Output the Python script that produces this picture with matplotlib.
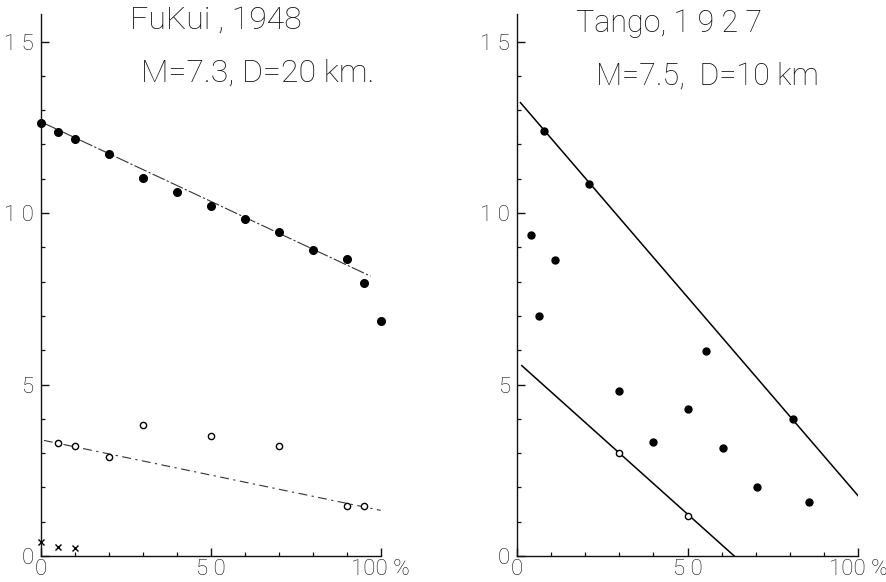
import numpy as np
import matplotlib
matplotlib.use('Agg')
import matplotlib.pyplot as plt
from matplotlib.ticker import MultipleLocator, FixedLocator, FixedFormatter

plt.rcParams['font.family'] = ['Roboto', 'DejaVu Sans']
plt.rcParams['font.weight'] = 'light'

# Fukui, 1948
fukui_x = [0, 5, 10, 20, 30, 40, 50, 60, 70, 80, 90, 95, 100]
fukui_full = [12.63, 12.35, 12.16, 11.73, 11.02, 10.61, 10.2, 9.83, 9.44, 8.92, 8.67, 7.95, 6.86]
fukui_open_x = [5, 10, 20, 30, 50, 70, 90, 95]
fukui_open = [3.29, 3.2, 2.89, 3.82, 3.5, 3.2, 1.47, 1.47]
fukui_cross_x = [0, 5, 10]
fukui_cross = [0.42, 0.26, 0.24]
fukui_fit_x = [1, 97]
fukui_fit = [12.62, 8.16]
fukui_fit2_x = [1, 100]
fukui_fit2 = [3.37, 1.33]

# Tango, 1927
tango_x = [8, 21, 4, 11, 6.5, 55.5, 30, 50, 40, 60.5, 81, 70.5, 85.5]
tango_full = [12.4, 10.85, 9.36, 8.62, 6.99, 5.99, 4.82, 4.29, 3.33, 3.16, 3.99, 2.0, 1.56]
tango_open_x = [30, 50]
tango_open = [2.99, 1.17]
tango_fit_x = [1, 100]
tango_fit = [13.22, 1.76]
tango_fit2_x = [1.4, 63.7]
tango_fit2 = [5.55, 0.0]

x_ticks = [0, 50, 100]
x_labels = ['0', '5 0', '100 %']
y_ticks = [0, 5, 10, 15]
y_labels = ['0', '5', '1 0', '1 5']

fig = plt.figure(figsize=(8.87, 5.82), dpi=100)
ax1 = fig.add_axes([0.0457, 0.0447, 0.3835, 0.931])
ax2 = fig.add_axes([0.5829, 0.0447, 0.3844, 0.931])


def style_axis(ax):
    ax.set_xlim(0, 100)
    ax.set_ylim(0, 15.8)
    for s in ['top', 'right']:
        ax.spines[s].set_visible(False)
    for s in ['left', 'bottom']:
        ax.spines[s].set_linewidth(1.0)
        ax.spines[s].set_color('#111111')
    ax.xaxis.set_major_locator(FixedLocator(x_ticks))
    ax.xaxis.set_major_formatter(FixedFormatter(x_labels))
    ax.yaxis.set_major_locator(FixedLocator(y_ticks))
    ax.yaxis.set_major_formatter(FixedFormatter(y_labels))
    ax.xaxis.set_minor_locator(MultipleLocator(10))
    ax.yaxis.set_minor_locator(MultipleLocator(1))
    ax.tick_params(which='major', direction='in', length=6, width=1.0, labelsize=16, colors='#111111')
    ax.tick_params(which='minor', direction='in', length=3, width=0.9, colors='#111111')
    ax.tick_params(axis='x', pad=2)
    ax.tick_params(axis='y', pad=5)


style_axis(ax1)
style_axis(ax2)

# left panel
ax1.plot(fukui_fit_x, fukui_fit, color='#333333', lw=0.8, dashes=(12, 2, 2, 2))
ax1.plot(fukui_fit2_x, fukui_fit2, color='#333333', lw=0.8, dashes=(8, 4, 2, 4))
ax1.plot(fukui_x, fukui_full, 'o', color='black', ms=5.5, clip_on=False)
ax1.plot(fukui_open_x, fukui_open, 'o', mfc='white', mec='black', ms=4.5, mew=1.0, clip_on=False)
ax1.plot(fukui_cross_x, fukui_cross, 'x', color='black', ms=4, mew=1.0, clip_on=False)

# right panel
ax2.plot(tango_fit_x, tango_fit, color='black', lw=1.1)
ax2.plot(tango_fit2_x, tango_fit2, color='black', lw=1.1)
ax2.plot(tango_x, tango_full, 'o', color='black', ms=5, clip_on=False)
ax2.plot(tango_open_x, tango_open, 'o', mfc='white', mec='black', ms=4.5, mew=1.0, clip_on=False)

fig.text(0.2435, 0.966, 'FuKui , 1948', ha='center', va='center', fontsize=23, color='#111111')
fig.text(0.291, 0.874, 'M=7.3, D=20 km.', ha='center', va='center', fontsize=23, color='#111111')
fig.text(0.754, 0.960, 'Tango, 1 9 2 7', ha='center', va='center', fontsize=22, color='#111111')
fig.text(0.797, 0.869, 'M=7.5,  D=10 km', ha='center', va='center', fontsize=22, color='#111111')

plt.savefig('out.png', dpi=100)
plt.close()
